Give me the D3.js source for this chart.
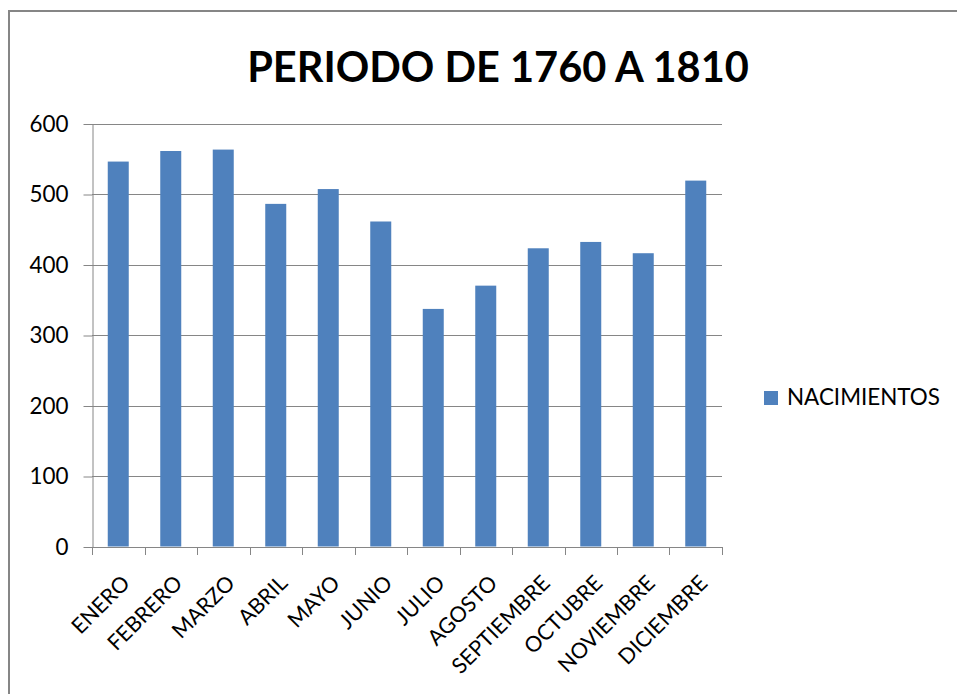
<!DOCTYPE html>
<html>
<head>
<meta charset="utf-8">
<script src="https://cdn.jsdelivr.net/npm/d3@7/dist/d3.min.js"></script>
<style>
  html, body { margin: 0; padding: 0; background: #fff; }
  svg { display: block; }
  text { font-family: Lato, "Open Sans", sans-serif; fill: #000; }
</style>
</head>
<body>
<svg id="chart" width="957" height="694"></svg>
<script>
const title = "PERIODO DE 1760 A 1810";
const categories = ["ENERO", "FEBRERO", "MARZO", "ABRIL", "MAYO", "JUNIO",
  "JULIO", "AGOSTO", "SEPTIEMBRE", "OCTUBRE", "NOVIEMBRE", "DICIEMBRE"];
const seriesName = "NACIMIENTOS";
const nacimientos = [546, 561, 563, 486, 507, 461, 337, 370, 423, 432, 416, 519];
const yTicks = [0, 100, 200, 300, 400, 500, 600];

const svg = d3.select("#chart");
const W = 957, H = 694;
const plot = { left: 92, right: 722, top: 123.5, bottom: 546.5 };
const gridColor = "#868686";
const barColor = "#4F81BD";

function fit(sel, target) {
  const node = sel.node();
  const fs = parseFloat(sel.attr("font-size"));
  const w = node.getComputedTextLength();
  const nf = fs * target / w;
  sel.attr("font-size", nf);
  return nf;
}

// outer chart border
svg.append("rect")
  .attr("x", 9).attr("y", 11)
  .attr("width", W + 20).attr("height", H + 20)
  .attr("fill", "none").attr("stroke", gridColor).attr("stroke-width", 2);

// title
const t = svg.append("text")
  .attr("x", 498).attr("y", 82)
  .attr("text-anchor", "middle")
  .attr("font-weight", "bold")
  .attr("font-size", 44)
  .text(title);
fit(t, 502);

const x = d3.scaleBand()
  .domain(categories)
  .range([plot.left, plot.right])
  .paddingInner(0.6)
  .paddingOuter(0.3);

const y = d3.scaleLinear()
  .domain([0, 600])
  .range([plot.bottom, plot.top]);

// gridlines
svg.append("g")
  .selectAll("line")
  .data(yTicks.filter(d => d > 0))
  .join("line")
  .attr("x1", plot.left).attr("x2", plot.right)
  .attr("y1", d => Math.round(y(d)) + 0.5).attr("y2", d => Math.round(y(d)) + 0.5)
  .attr("stroke", gridColor).attr("stroke-width", 1);

// bars
svg.append("g")
  .selectAll("rect")
  .data(categories)
  .join("rect")
  .attr("x", d => x(d))
  .attr("width", x.bandwidth())
  .attr("y", (d, i) => y(nacimientos[i]))
  .attr("height", (d, i) => y(0) - y(nacimientos[i]))
  .attr("fill", barColor);

// y axis
const yAxis = d3.axisLeft(y).tickValues(yTicks).tickSizeInner(9).tickSizeOuter(0).tickPadding(15);
const gy = svg.append("g")
  .attr("transform", `translate(${plot.left + 0.5},0.5)`)
  .call(yAxis);
gy.select(".domain").attr("stroke", gridColor);
gy.selectAll(".tick line").attr("stroke", gridColor);
gy.selectAll(".tick text")
  .attr("font-family", "Lato, sans-serif")
  .attr("font-size", 22)
  .attr("fill", "#000");
const yfs = fit(gy.selectAll(".tick text").filter(d => d === 600), 39);
gy.selectAll(".tick text").attr("font-size", yfs);

// x axis
const xEdges = d3.scaleLinear().domain([0, categories.length]).range([plot.left, plot.right]);
const gx = svg.append("g");
gx.append("line")
  .attr("x1", plot.left).attr("x2", plot.right + 0.5)
  .attr("y1", Math.round(plot.bottom) + 0.5).attr("y2", Math.round(plot.bottom) + 0.5)
  .attr("stroke", gridColor);
gx.selectAll("line.tk")
  .data(d3.range(categories.length + 1))
  .join("line")
  .attr("class", "tk")
  .attr("x1", d => Math.round(xEdges(d)) + 0.5).attr("x2", d => Math.round(xEdges(d)) + 0.5)
  .attr("y1", Math.round(plot.bottom)).attr("y2", Math.round(plot.bottom) + 8)
  .attr("stroke", gridColor);

const labels = gx.selectAll("text")
  .data(categories)
  .join("text")
  .attr("text-anchor", "end")
  .attr("font-size", 22)
  .attr("transform", d => `translate(${x(d) + x.bandwidth() / 2 + 13},${plot.bottom + 38}) rotate(-45)`)
  .text(d => d);
const xfs = fit(labels.filter(d => d === "ENERO"), 72);
labels.attr("font-size", xfs);

// legend
svg.append("rect")
  .attr("x", 764).attr("y", 391)
  .attr("width", 14).attr("height", 14)
  .attr("fill", barColor);
const lt = svg.append("text")
  .attr("x", 787).attr("y", 405)
  .attr("font-size", 22)
  .text(seriesName);
fit(lt, 153);
</script>
</body>
</html>
